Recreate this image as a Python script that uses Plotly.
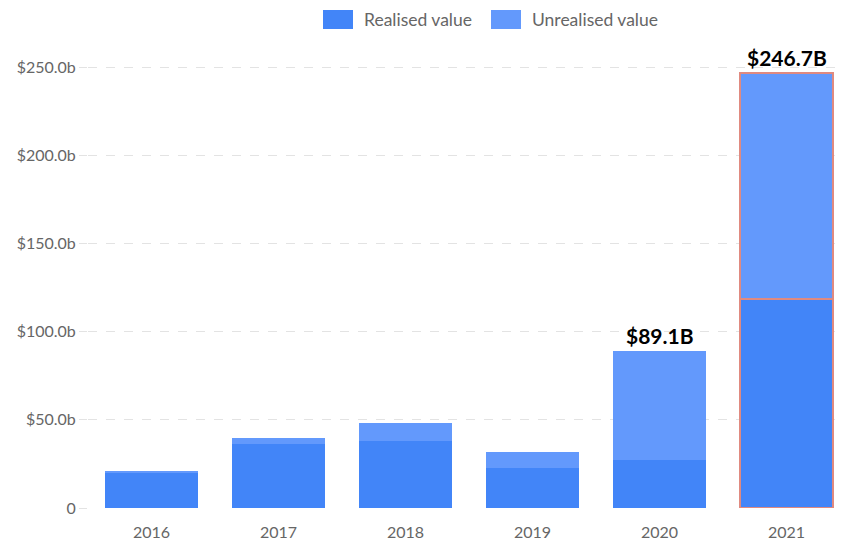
import plotly.graph_objects as go

years = ["2016", "2017", "2018", "2019", "2020", "2021"]
realised = [20.0, 36.5, 37.8, 22.7, 27.2, 118.5]
totals = [20.7, 39.5, 48.0, 31.9, 89.1, 246.7]
unrealised = [round(t - r, 1) for t, r in zip(totals, realised)]
labelled_years = ["2020", "2021"]
highlight_year = "2021"
series_names = ["Realised value", "Unrealised value"]
series_colors = ["#4285F8", "#6399FC"]

tick_vals = [0, 50, 100, 150, 200, 250]
tick_text = ["0", "$50.0b", "$100.0b", "$150.0b", "$200.0b", "$250.0b"]

# page has an 8px body margin, so the figure is 8px smaller than the window
W, H = 842, 533
L, R, T, B = 80, 0, 37, 33
pw, ph = W - L - R, H - T - B

line_cols = ["#E08A80" if y == highlight_year else "rgba(0,0,0,0)" for y in years]
line_widths = [1.4 if y == highlight_year else 0 for y in years]

fig = go.Figure()
for name, vals, col in zip(series_names, [realised, unrealised], series_colors):
    fig.add_trace(go.Bar(
        x=years, y=vals, name=name, showlegend=False,
        marker=dict(color=col, line=dict(color=line_cols, width=line_widths)),
    ))

for y, t in zip(years, totals):
    if y in labelled_years:
        fig.add_annotation(x=years.index(y), y=t, text=f"<b>${t}B</b>", showarrow=False,
                           yanchor="bottom", yshift=1,
                           font=dict(size=21, color="#000000", family="Lato"))

def px_x(p):
    return (p - 8 - L) / pw

def px_y(p):
    return (H - B - (p - 8)) / ph

legend_pos = [(323, 362), (491, 530)]
for (sx, tx), name, col in zip(legend_pos, series_names, series_colors):
    fig.add_shape(type="rect", xref="paper", yref="paper",
                  x0=px_x(sx), x1=px_x(sx + 30), y0=px_y(29), y1=px_y(10),
                  fillcolor=col, line=dict(width=0))
    fig.add_annotation(xref="paper", yref="paper", x=px_x(tx), y=px_y(19.5),
                       xanchor="left", yanchor="middle", showarrow=False,
                       text=name, font=dict(size=17.5, color="#666666", family="Lato"))

fig.update_layout(
    barmode="stack",
    bargap=0.27,
    width=W, height=H,
    margin=dict(l=L, r=R, t=T, b=B, autoexpand=False),
    paper_bgcolor="white", plot_bgcolor="white",
    font=dict(family="Lato", size=16, color="#666666"),
    showlegend=False,
    xaxis=dict(type="category", categoryorder="array", categoryarray=years,
               range=[-0.5, 5.5], autorange=False,
               showgrid=False, showline=False, ticks="outside", ticklen=10,
               tickcolor="rgba(0,0,0,0)",
               tickfont=dict(size=16, color="#666666")),
    yaxis=dict(range=[0, 262.5], autorange=False, tickvals=tick_vals, ticktext=tick_text,
               showgrid=True, gridcolor="#E3E3E3", griddash="dash", gridwidth=1,
               zeroline=False, ticks="outside", ticklen=8, tickcolor="#E3E3E3",
               tickfont=dict(size=16, color="#666666")),
)
fig.write_html("out.html")
